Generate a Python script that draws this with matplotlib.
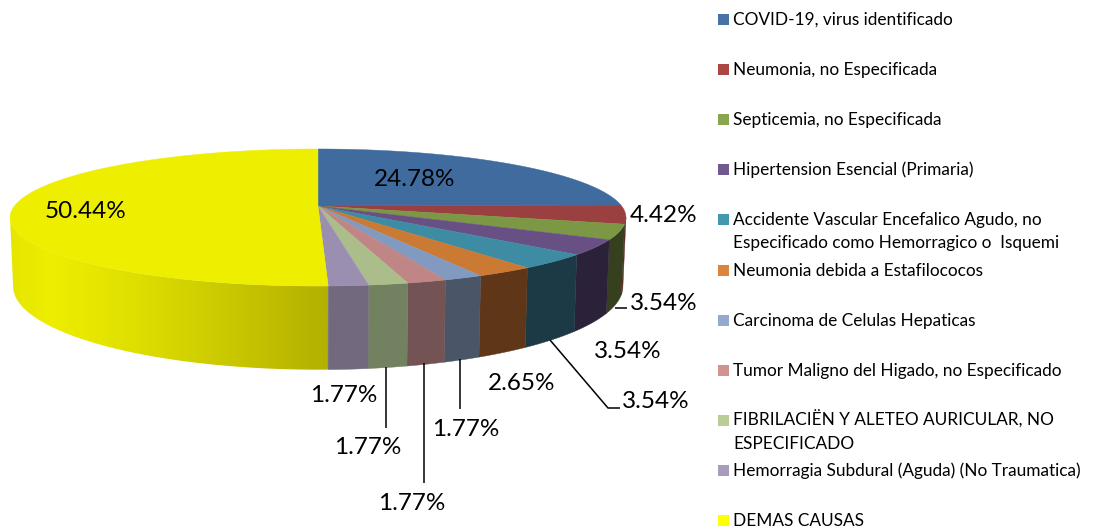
import numpy as np
import matplotlib
matplotlib.use('Agg')
import matplotlib.pyplot as plt
from matplotlib.patches import Polygon, Rectangle
from matplotlib.colors import to_rgb

plt.rcParams['font.family'] = ['Lato', 'DejaVu Sans']

causes = [
    'COVID-19, virus identificado',
    'Neumonia, no Especificada',
    'Septicemia, no Especificada',
    'Hipertension Esencial (Primaria)',
    'Accidente Vascular Encefalico Agudo, no\nEspecificado como Hemorragico o  Isquemi',
    'Neumonia debida a Estafilococos',
    'Carcinoma de Celulas Hepaticas',
    'Tumor Maligno del Higado, no Especificado',
    'FIBRILACIËN Y ALETEO AURICULAR, NO\nESPECIFICADO',
    'Hemorragia Subdural (Aguda) (No Traumatica)',
    'DEMAS CAUSAS',
]
percents = [24.78, 4.42, 3.54, 3.54, 3.54, 2.65, 1.77, 1.77, 1.77, 1.77, 50.44]

top_colors = ['#3F6B9E', '#9A4040', '#7D9844', '#695084', '#3E8BA4', '#CB7A34',
              '#829ABF', '#C08585', '#ABBD8B', '#9B8FB1', '#EEEE00']
side_colors = ['#2A4565', '#5E2726', '#36401F', '#2B2139', '#1C3A45', '#5F3618',
               '#4A5568', '#735353', '#728160', '#72697F', '#B3B000']
legend_colors = ['#4572A7', '#AA4643', '#89A54E', '#71588F', '#4198AF', '#DB843D',
                 '#93A9CF', '#D19392', '#B9CD96', '#A99BBD', '#FFFF00']

# label centres and leader lines, in pixels
label_pos = [(415, 179), (664, 215), (664, 304), (628, 351), (656, 401), (522, 384),
             (466, 429), (412, 503), (368, 447), (344, 395), (86, 211)]
leaders = [[(615, 308), (627, 308)],
           [(550, 340), (608, 408), (620, 408)],
           [(460, 359), (460, 409)],
           [(424, 363), (424, 483)],
           [(386, 367), (386, 428)]]
legend_y = [19, 69, 119, 169, 219, 270, 320, 370, 420, 470, 520]

# pie perspective
CX, CY = 318, 206
BX, AY, K = 303.6, 66.6, 0.168


def rim(theta):
    # theta in radians, clockwise from the back of the pie
    u, v = np.sin(theta), np.cos(theta)
    d = 1 + K * v
    return CX + BX * u / d, CY + AY * v * -1 / d


def lower(x, y):
    return CX + 0.99 * (x - CX), y + 70 + 0.216 * (y - 223)


def yellow_shade(x):
    stops = ['#E6E600', '#EEEE00', '#E0E000', '#B3B000']
    xs = [13, 50, 130, 328]
    rgb = np.array([to_rgb(c) for c in stops])
    return np.stack([np.interp(x, xs, rgb[:, i]) for i in range(3)], axis=-1)


fig = plt.figure(figsize=(10.95, 5.29), dpi=100)
ax = fig.add_axes([0, 0, 1, 1])

edges = np.cumsum([0] + percents) / sum(percents) * 2 * np.pi
vis_from = np.radians(99.7)
vis_to = np.radians(260.3)

# side wall
for i in range(len(percents)):
    a = max(edges[i], vis_from)
    b = min(edges[i + 1], vis_to)
    if a >= b:
        continue
    t = np.linspace(a, b, 80)
    x, y = rim(t)
    xb, yb = lower(x, y)
    pts = list(zip(x, y)) + list(zip(xb[::-1], yb[::-1]))
    if i == len(percents) - 1:
        # last slice has a shaded wall
        wall = Polygon(pts, facecolor='none', edgecolor='none')
        ax.add_patch(wall)
        px = np.linspace(0, 340, 341)
        img = ax.imshow(yellow_shade(px)[np.newaxis, :, :], extent=(0, 340, 400, 200),
                        aspect='auto', interpolation='bilinear')
        img.set_clip_path(wall)
    else:
        ax.add_patch(Polygon(pts, facecolor=side_colors[i], edgecolor=side_colors[i], lw=0.3))

# top face
for i in range(len(percents)):
    t = np.linspace(edges[i], edges[i + 1], 120)
    x, y = rim(t)
    pts = [(CX, CY)] + list(zip(x, y))
    ax.add_patch(Polygon(pts, facecolor=top_colors[i], edgecolor=top_colors[i], lw=0.3))

for line in leaders:
    xs, ys = zip(*line)
    ax.plot(xs, ys, color='black', lw=1.1, solid_capstyle='butt')

for val, (lx, ly) in zip(percents, label_pos):
    ax.text(lx, ly, f'{val:.2f}%', fontsize=17.5, color='black', ha='center', va='center')

for name, c, ly in zip(causes, legend_colors, legend_y):
    ax.add_patch(Rectangle((718, ly - 5.5), 11, 11, facecolor=c, edgecolor='none'))
    for k, part in enumerate(name.split('\n')):
        ax.text(733, ly + 6 + 23 * k, part, fontsize=12.4, color='black', ha='left',
                va='baseline')

ax.set_xlim(0, 1095)
ax.set_ylim(529, 0)
ax.axis('off')

fig.savefig('out.png', dpi=100)
